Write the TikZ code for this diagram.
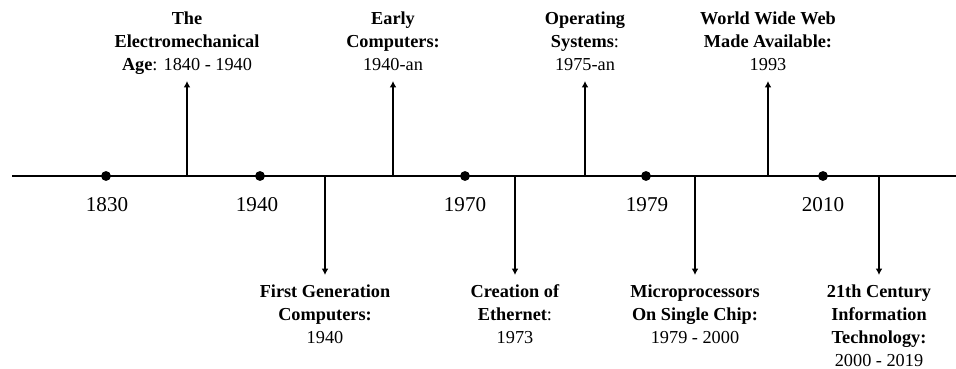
\documentclass[tikz,border=0pt]{standalone}
\usepackage{fontspec}
\setmainfont{Liberation Serif}
\usetikzlibrary{arrows.meta, positioning}

\begin{document}
\begin{tikzpicture}[
    x=0.025cm, y=-0.025cm,
    dot/.style={circle, fill=black, inner sep=0pt, minimum size=7pt},
    year/.style={anchor=base, font=\fontsize{15}{18}\selectfont},
    uplabel/.style={anchor=south, align=center, inner xsep=0pt, inner ysep=4.5pt, text depth=3pt, font=\fontsize{13}{16.3}\selectfont},
    downlabel/.style={anchor=north, align=center, inner xsep=0pt, inner ysep=7pt, font=\fontsize{13}{16.3}\selectfont},
    arrow/.style={-{Latex[length=4.5pt, width=4.8pt]}, line width=1.4pt},
    axis/.style={line width=1.5pt}
]
\useasboundingbox (0,0) rectangle (956,369);

% timeline
\coordinate (start) at (12,176);
\coordinate (end) at (956,176);
\draw[axis] (start) -- (end);

\node[dot] (d1830) at (106,176) {};
\node[dot] (d1940) at (260,176) {};
\node[dot] (d1970) at (465,176) {};
\node[dot] (d1979) at (646,176) {};
\node[dot] (d2010) at (823,176) {};

\node[year] (y1830) at (107,211) {1830};
\node[year] (y1940) at (257,211) {1940};
\node[year] (y1970) at (465,211) {1970};
\node[year] (y1979) at (647,211) {1979};
\node[year] (y2010) at (823,211) {2010};

% events above
\node[uplabel] (electro) at (187,81) {\textbf{The}\\\textbf{Electromechanical}\\\textbf{Age}: 1840 - 1940};
\node[uplabel] (early) at (393,81) {\textbf{Early}\\\textbf{Computers:}\\1940-an};
\node[uplabel] (ossys) at (585,81) {\textbf{Operating}\\\textbf{Systems}:\\1975-an};
\node[uplabel] (www) at (768,81) {\textbf{World Wide Web}\\\textbf{Made Available:}\\1993};

% events below
\node[downlabel] (firstgen) at (325,275) {\textbf{First Generation}\\\textbf{Computers:}\\1940};
\node[downlabel] (ethernet) at (515,275) {\textbf{Creation of}\\\textbf{Ethernet}:\\1973};
\node[downlabel] (micro) at (695,275) {\textbf{Microprocessors}\\\textbf{On Single Chip:}\\1979 - 2000};
\node[downlabel] (info) at (879,275) {\textbf{21th Century}\\\textbf{Information}\\\textbf{Technology:}\\2000 - 2019};

\coordinate (b1) at (187,176);
\coordinate (b2) at (325,176);
\coordinate (b3) at (393,176);
\coordinate (b4) at (515,176);
\coordinate (b5) at (585,176);
\coordinate (b6) at (695,176);
\coordinate (b7) at (768,176);
\coordinate (b8) at (879,176);

\draw[arrow] (b1) -- (electro);
\draw[arrow] (b2) -- (firstgen.north);
\draw[arrow] (b3) -- (early);
\draw[arrow] (b4) -- (ethernet.north);
\draw[arrow] (b5) -- (ossys);
\draw[arrow] (b6) -- (micro.north);
\draw[arrow] (b7) -- (www);
\draw[arrow] (b8) -- (info.north);
\end{tikzpicture}
\end{document}
